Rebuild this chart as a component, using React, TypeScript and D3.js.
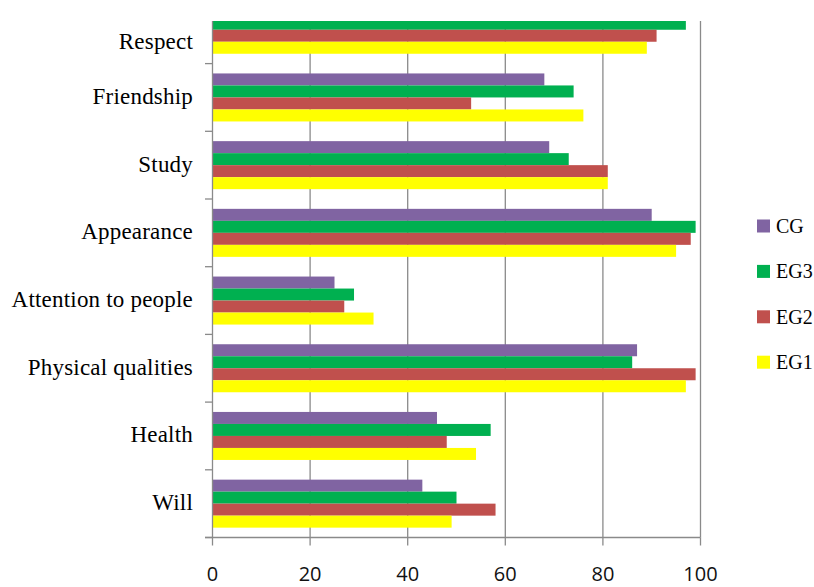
import React from "react";
import * as d3 from "d3";

const categories = [
  "Respect",
  "Friendship",
  "Study",
  "Appearance",
  "Attention to people",
  "Physical qualities",
  "Health",
  "Will",
];
const seriesNames = ["CG", "EG3", "EG2", "EG1"];
const cgValues = [95, 68, 69, 90, 25, 87, 46, 43];
const eg3Values = [97, 74, 73, 99, 29, 86, 57, 50];
const eg2Values = [91, 53, 81, 98, 27, 99, 48, 58];
const eg1Values = [89, 76, 81, 95, 33, 97, 54, 49];
const xTicks = [0, 20, 40, 60, 80, 100];

const seriesValues = [cgValues, eg3Values, eg2Values, eg1Values];
const colors = ["#8064A2", "#00B050", "#C0504D", "#FFFF00"];

const W = 814;
const H = 587;
const plotLeft = 212.5;
const plotRight = 700.5;
const plotTop = 21;
const plotBottom = 537.5;
const bandTop = -4.1;

export default function App() {
  const x = d3.scaleLinear().domain([0, 100]).range([plotLeft, plotRight]);
  const y = d3.scaleBand<string>().domain(categories).range([bandTop, plotBottom]).padding(0);
  const inner = d3
    .scaleBand<string>()
    .domain(seriesNames)
    .range([0, y.bandwidth()])
    .paddingInner(0)
    .paddingOuter(0.82);

  const gridColor = "#8a8a8a";
  const boundaries = categories.map((c) => (y(c) as number) + y.bandwidth());

  return (
    <svg
      width={W}
      height={H}
      style={{ position: "absolute", left: 0, top: 0, background: "#fff" }}
    >
      <defs>
        <clipPath id="plotClip">
          <rect x={0} y={plotTop} width={W} height={H - plotTop} />
        </clipPath>
      </defs>
      <rect x={0} y={0} width={W} height={H} fill="#fff" />
      <g clipPath="url(#plotClip)">
        {xTicks
          .filter((t) => t > 0)
          .map((t) => (
            <line
              key={"g" + t}
              x1={x(t)}
              x2={x(t)}
              y1={plotTop}
              y2={plotBottom}
              stroke={gridColor}
              strokeWidth={1.3}
            />
          ))}
        {categories.map((c, ci) =>
          seriesNames.map((s, si) => (
            <rect
              key={c + s}
              x={x(0)}
              y={(y(c) as number) + (inner(s) as number)}
              width={x(seriesValues[si][ci]) - x(0)}
              height={inner.bandwidth()}
              fill={colors[si]}
            />
          ))
        )}
        <line x1={plotLeft} x2={plotLeft} y1={plotTop} y2={plotBottom} stroke={gridColor} strokeWidth={1.3} />
        {boundaries.map((b, i) => (
          <line key={"yt" + i} x1={205} x2={plotLeft} y1={b} y2={b} stroke={gridColor} strokeWidth={1.3} />
        ))}
      </g>
      <line x1={205} x2={plotRight} y1={plotBottom} y2={plotBottom} stroke={gridColor} strokeWidth={1.3} />
      {xTicks.map((t) => (
        <line key={"xt" + t} x1={x(t)} x2={x(t)} y1={plotBottom} y2={plotBottom + 8} stroke={gridColor} strokeWidth={1.3} />
      ))}
      {xTicks.map((t) => (
        <text
          key={"xl" + t}
          x={x(t)}
          y={581}
          textAnchor="middle"
          fontFamily="'Open Sans', sans-serif"
          fontSize={20}
          fill="#111"
        >
          {t}
        </text>
      ))}
      {categories.map((c) => {
        const top = Math.max(y(c) as number, plotTop);
        const bottom = (y(c) as number) + y.bandwidth();
        const cy = (top + bottom) / 2;
        return (
          <text
            key={"cl" + c}
            x={193}
            y={cy + 6.5}
            textAnchor="end"
            fontFamily="'Liberation Serif', 'Times New Roman', serif"
            fontSize={23}
            letterSpacing={0.2}
            fill="#000"
          >
            {c}
          </text>
        );
      })}
      {seriesNames.map((s, i) => {
        const ly = 226 + i * 45.4;
        return (
          <g key={"lg" + s}>
            <rect x={757} y={ly - 6.5} width={13} height={13} fill={colors[i]} />
            <text
              x={776}
              y={ly + 7}
              fontFamily="'Liberation Serif', 'Times New Roman', serif"
              fontSize={20}
              fill="#000"
            >
              {s}
            </text>
          </g>
        );
      })}
    </svg>
  );
}
